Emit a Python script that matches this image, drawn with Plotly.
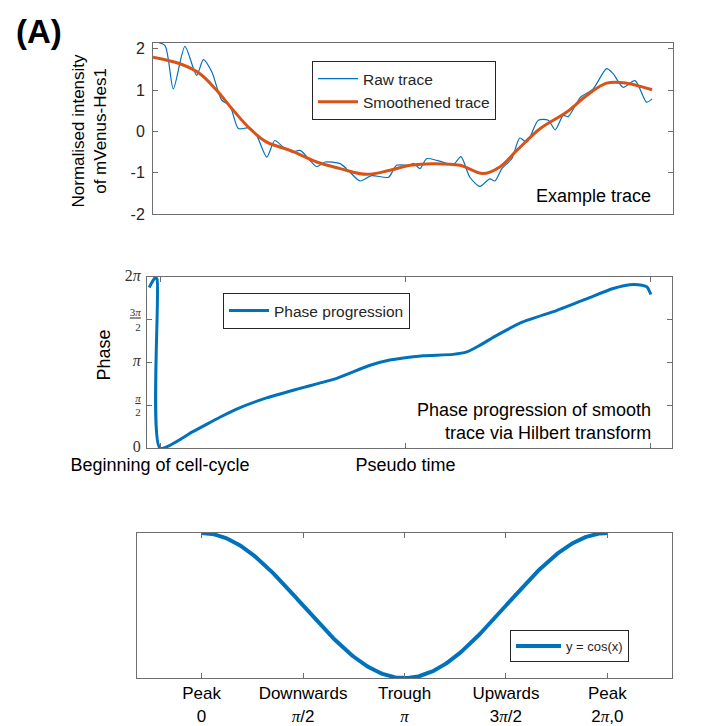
import numpy as np
import plotly.graph_objects as go

W, H = 709, 726

# ---------------- data ----------------
# Panel 1: pseudo-time (0..100) and normalised intensity
raw_t = [0, 0.4, 2.4, 4.07, 6.4, 8.75, 10.1, 11.8, 13.8, 15.4, 17.1, 19.4, 20.8, 22.8, 24.4,
         26.1, 27.8, 29.5, 32.8, 34.5, 37.5, 39.5, 41.5, 43.8, 47.2, 48.8, 51.5, 52.2, 53.5,
         54.8, 56.9, 60.2, 61.7, 63.5, 65.5, 67.5, 68.5, 69.9, 71.9, 73.5, 74.9, 77.2, 79.2,
         80.6, 82.2, 83.2, 85.6, 88.2, 90.9, 92.2, 94.2, 96.6, 98.9, 100]
raw_y = [2.2, 2.18, 2.08, 1.03, 2.06, 1.36, 1.74, 1.44, 0.75, 0.63, 0.07, 0.09, -0.10, -0.62,
         -0.22, -0.38, -0.50, -0.46, -0.85, -0.74, -0.78, -0.99, -1.20, -1.07, -1.11, -0.82,
         -0.82, -0.77, -0.90, -0.66, -0.70, -0.80, -0.61, -1.11, -1.33, -1.15, -1.20, -0.90,
         -0.66, -0.16, -0.26, 0.27, 0.27, 0.04, 0.39, 0.36, 0.82, 1.03, 1.52, 1.40, 1.07,
         1.23, 0.71, 0.79]

smooth_t = [0, 5.4, 9.4, 12.8, 16.1, 19.4, 22.8, 27.5, 32.8, 37.5, 42.8, 47.5, 51.5, 56.1,
            61.5, 66.1, 69.5, 72.9, 77.6, 82.9, 86.9, 90.9, 94.9, 100]
smooth_y = [1.80, 1.64, 1.40, 0.99, 0.51, 0.07, -0.26, -0.46, -0.74, -0.90, -1.04, -0.94,
            -0.82, -0.78, -0.82, -1.02, -0.86, -0.46, 0.07, 0.47, 0.87, 1.17, 1.17, 1.01]

# Panel 2: phase (radians) along pseudo time
phase_t = [-2.2, -1.6, -1.0, -0.6, 0.0, 6.7, 12.2, 15.6, 21.7, 28.5, 36.0, 42.8, 46.8, 48.9,
           53.6, 59.7, 62.5, 65.2, 68.6, 73.9, 80.9, 87.0, 92.3, 95.7, 98.2, 99.2, 100]
phase_y = [5.9, 6.1, 6.26, 6.2, 0.0, 0.60, 1.13, 1.43, 1.84, 2.19, 2.56, 3.04, 3.23, 3.29,
           3.39, 3.44, 3.53, 3.78, 4.14, 4.63, 5.06, 5.49, 5.86, 6.00, 5.98, 5.92, 5.64]

# Panel 3: y = cos(x)
cos_x = np.linspace(0, 2 * np.pi, 241)
cos_y = np.cos(cos_x)

p1_yticks = [-2, -1, 0, 1, 2]
p1_yticktext = ["-2", "-1", "0", "1", "2"]
p2_xticks = [0, 50, 100]
p2_xticktext = ["Beginning of cell-cycle", "Pseudo time", "End of cell-cycle"]
p2_yticks = [0, np.pi / 2, np.pi, 3 * np.pi / 2, 2 * np.pi]
p2_yticktext = ['<span style="font-size:16px">0</span>',
                '<u><i>π</i></u><br>2',
                '<span style="font-size:16px"><i>π</i></span>',
                '<u>3<i>π</i></u><br>2',
                '<span style="font-size:16px">2<i>π</i></span>']
p3_xticks = [0, np.pi / 2, np.pi, 3 * np.pi / 2, 2 * np.pi]
PI = '<span style="font-family:Liberation Serif"><i>π</i></span>'
p3_xticktext = ["Peak<br>0", "Downwards<br>" + PI + "/2", "Trough<br>" + PI,
                "Upwards<br>3" + PI + "/2", "Peak<br>2" + PI + ",0"]

BLUE = "#0072BD"
ORANGE = "#D95319"
AX = "#262626"
LINEC = "#6e6e6e"
SANS = "Liberation Sans, Arial, Helvetica, sans-serif"
SERIF = "Liberation Serif, Times New Roman, serif"


def px_x(p):
    return p / W


def px_y(p):
    return 1 - p / H


fig = go.Figure()

fig.add_trace(go.Scatter(x=raw_t, y=raw_y, mode="lines", name="Raw trace",
                         line=dict(color=BLUE, width=1.2, shape="spline", smoothing=0.7),
                         xaxis="x", yaxis="y", legend="legend"))
fig.add_trace(go.Scatter(x=smooth_t, y=smooth_y, mode="lines", name="Smoothened trace",
                         line=dict(color=ORANGE, width=3, shape="spline", smoothing=1.0),
                         xaxis="x", yaxis="y", legend="legend"))
fig.add_trace(go.Scatter(x=phase_t, y=phase_y, mode="lines", name="Phase progression",
                         line=dict(color=BLUE, width=3, shape="spline", smoothing=0.6),
                         xaxis="x2", yaxis="y2", legend="legend2"))
fig.add_trace(go.Scatter(x=cos_x, y=cos_y, mode="lines", name="y = cos(x)",
                         line=dict(color=BLUE, width=4),
                         xaxis="x3", yaxis="y3", legend="legend3"))

common = dict(showline=True, linecolor=LINEC, linewidth=1, showgrid=False, zeroline=False,
              ticks="inside", ticklen=5, tickwidth=1, tickcolor=LINEC, automargin=False)

fig.update_layout(
    template="none",
    width=W, height=H, autosize=False,
    margin=dict(l=0, r=0, t=0, b=0, pad=0, autoexpand=False),
    paper_bgcolor="white", plot_bgcolor="white",
    font=dict(family=SANS, color=AX),
    xaxis=dict(domain=[px_x(153), px_x(673)], range=[0, 104.2], showticklabels=False,
               showline=True, linecolor=LINEC, mirror=True, showgrid=False, zeroline=False,
               ticks="", anchor="y", automargin=False),
    yaxis=dict(common, domain=[px_y(214), px_y(42.7)], range=[-2, 2.15], mirror="ticks",
               tickvals=p1_yticks, ticktext=p1_yticktext, tickfont=dict(size=16, color=AX),
               anchor="x", ticklabelstandoff=4),
    xaxis2=dict(common, domain=[px_x(147), px_x(672)], range=[-2.65, 104.3], mirror="ticks",
                tickvals=p2_xticks, ticktext=p2_xticktext, tickfont=dict(size=18, color="black"),
                anchor="y2", ticklabelstandoff=0),
    yaxis2=dict(common, domain=[px_y(448), px_y(277)], range=[0, 2 * np.pi], mirror="ticks",
                tickvals=p2_yticks, ticktext=p2_yticktext,
                tickfont=dict(size=11, color="#333333", family=SERIF),
                anchor="x2", ticklabelstandoff=3),
    xaxis3=dict(common, domain=[px_x(137), px_x(672)], range=[-1.0, 2 * np.pi + 1.0],
                mirror="ticks", tickvals=p3_xticks, ticktext=p3_xticktext,
                tickfont=dict(size=17, color="black"), anchor="y3", ticklabelstandoff=0),
    yaxis3=dict(domain=[px_y(678), px_y(533)], range=[-1, 1], showline=True, linecolor=LINEC,
                mirror=True, showgrid=False, zeroline=False, ticks="", showticklabels=False,
                anchor="x3", automargin=False),
    legend=dict(x=px_x(312), y=px_y(61), xanchor="left", yanchor="top",
                bgcolor="white", bordercolor=AX, borderwidth=1,
                font=dict(size=15.5, color=AX), itemwidth=40, tracegroupgap=0),
    legend2=dict(x=px_x(223), y=px_y(293), xanchor="left", yanchor="top",
                 bgcolor="white", bordercolor=AX, borderwidth=1,
                 font=dict(size=15.5, color=AX), itemwidth=40),
    legend3=dict(x=px_x(629), y=px_y(630), xanchor="right", yanchor="top",
                 bgcolor="white", bordercolor=AX, borderwidth=1,
                 font=dict(size=13, color=AX), itemwidth=45),
)

annotations = [
    dict(text="<b>(A)</b>", x=px_x(39), y=px_y(31), font=dict(size=33, color="black")),
    dict(text="Normalised intensity<br>of mVenus-Hes1", x=px_x(88.5), y=px_y(131),
         textangle=-90, font=dict(size=17, color="black")),
    dict(text="Phase", x=px_x(103.5), y=px_y(355), textangle=-90,
         font=dict(size=18, color="black")),
    dict(text="Example trace", x=px_x(653), y=px_y(196), xanchor="right",
         font=dict(size=18, color="black")),
    dict(text="Phase progression of smooth<br>trace via Hilbert transform", x=px_x(653),
         y=px_y(421), xanchor="right", align="right", font=dict(size=18, color="black")),
]
for a in annotations:
    a.setdefault("xanchor", "center")
    a.update(xref="paper", yref="paper", showarrow=False, yanchor="middle")
fig.update_layout(annotations=annotations)

fig.write_html("out.html", config={"displayModeBar": False},
               post_script="document.body.style.margin='0px';document.body.style.padding='0px';")
